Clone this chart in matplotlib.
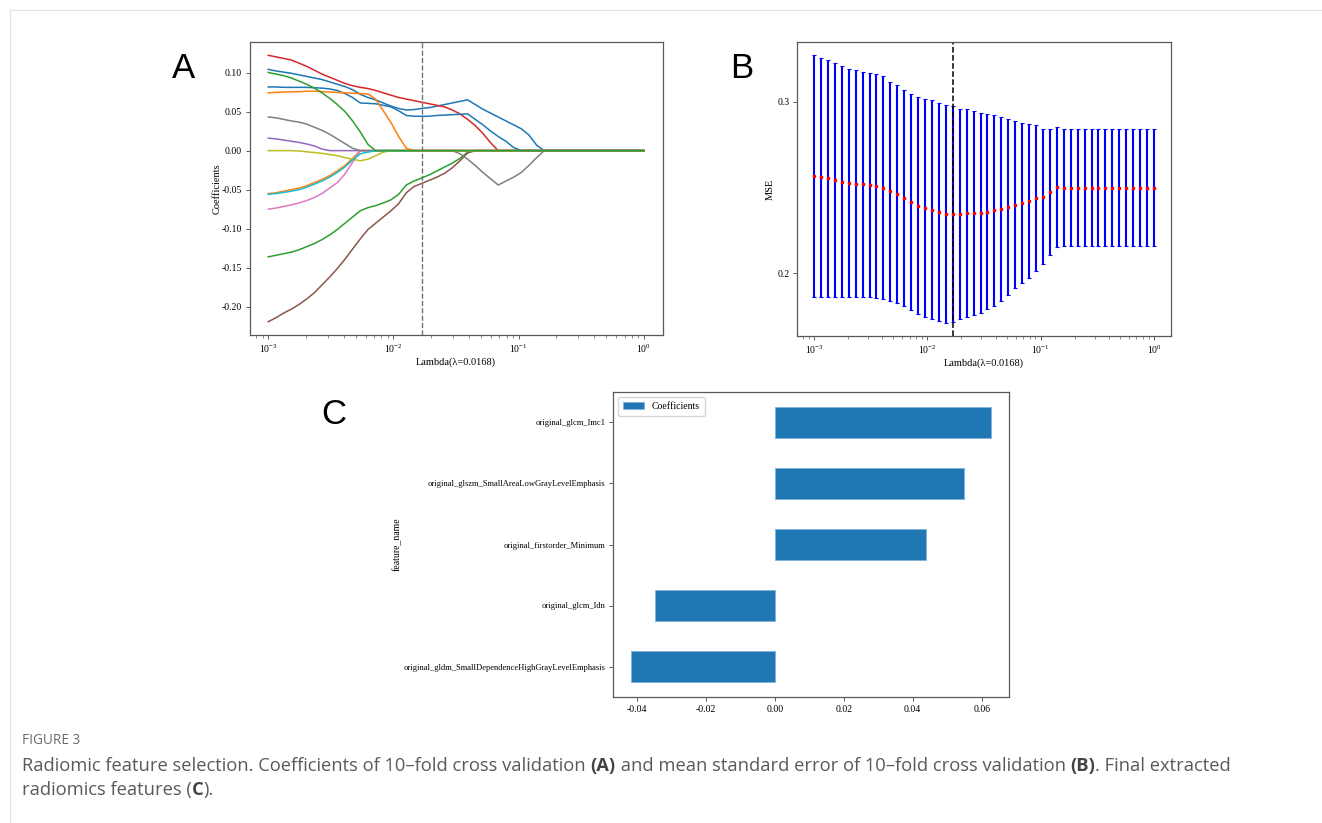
import numpy as np
import matplotlib
matplotlib.use("Agg")
import matplotlib.pyplot as plt
from matplotlib.lines import Line2D

plt.rcParams["font.family"] = ["Liberation Serif", "DejaVu Serif"]
plt.rcParams["mathtext.fontset"] = "stix"
plt.rcParams["axes.unicode_minus"] = False

LAMBDA_BEST = 0.0168
N_ALPHA = 50
alphas = np.logspace(-3, 0, N_ALPHA)


def pad(vals, lead=0):
    # coefficients that have left the model stay at exactly zero
    return [0.0] * lead + vals + [0.0] * (N_ALPHA - lead - len(vals))


# lasso path, one list per feature (drawn in this order, tab10 cycle)
coef_blue_a = pad([0.104, 0.102, 0.1005, 0.099, 0.097, 0.095, 0.093, 0.091, 0.088, 0.085,
                   0.082, 0.078, 0.072, 0.068, 0.065, 0.061, 0.057, 0.054, 0.052, 0.0525,
                   0.054, 0.055, 0.057, 0.059, 0.061, 0.063, 0.065, 0.059, 0.053, 0.048,
                   0.043, 0.038, 0.033, 0.028, 0.020, 0.007, 0.0])
coef_orange_low = pad([-0.055, -0.054, -0.052, -0.050, -0.048, -0.045, -0.041, -0.037, -0.032,
                       -0.026, -0.019, -0.010, 0.0])
coef_green_low = pad([-0.136, -0.134, -0.132, -0.130, -0.127, -0.123, -0.119, -0.114, -0.108,
                      -0.101, -0.093, -0.085, -0.077, -0.073, -0.0705, -0.067, -0.063, -0.056,
                      -0.044, -0.039, -0.035, -0.031, -0.026, -0.021, -0.016, -0.010, -0.002, 0.0])
coef_red = pad([0.122, 0.120, 0.118, 0.116, 0.112, 0.108, 0.103, 0.098, 0.094, 0.090,
                0.086, 0.083, 0.081, 0.0795, 0.077, 0.074, 0.071, 0.068, 0.066, 0.064,
                0.062, 0.060, 0.058, 0.056, 0.052, 0.047, 0.040, 0.032, 0.022, 0.010, 0.0])
coef_purple = pad([0.016, 0.015, 0.0135, 0.012, 0.0105, 0.0085, 0.006, 0.002, 0.0])
coef_brown = pad([-0.219, -0.214, -0.208, -0.203, -0.197, -0.190, -0.182, -0.172, -0.162,
                  -0.151, -0.139, -0.126, -0.113, -0.101, -0.093, -0.085, -0.077, -0.068,
                  -0.054, -0.046, -0.042, -0.038, -0.034, -0.029, -0.022, -0.013, -0.003, 0.0])
coef_pink = pad([-0.075, -0.0735, -0.0715, -0.0695, -0.067, -0.064, -0.060, -0.055, -0.048,
                 -0.041, -0.030, -0.015, 0.0])
coef_gray = pad([0.043, 0.042, 0.040, 0.038, 0.0365, 0.034, 0.030, 0.026, 0.021, 0.015,
                 0.009, 0.003, 0.0, 0.0, 0.0, 0.0, 0.0, 0.0, 0.0, 0.0,
                 0.0, 0.0, 0.0, 0.0, 0.0, -0.004, -0.011, -0.019, -0.028, -0.036,
                 -0.044, -0.039, -0.034, -0.028, -0.019, -0.009, 0.0])
coef_olive = pad([0.0, 0.0, 0.0, 0.0, -0.0005, -0.0015, -0.0025, -0.0035, -0.005, -0.0065,
                  -0.009, -0.011, -0.013, -0.011, -0.0065, -0.002, 0.0])
coef_cyan = pad([-0.056, -0.055, -0.0535, -0.052, -0.050, -0.047, -0.043, -0.039, -0.034,
                 -0.028, -0.021, -0.012, -0.004, -0.002, 0.0])
coef_blue_b = pad([0.0815, 0.0815, 0.081, 0.081, 0.081, 0.081, 0.0805, 0.080, 0.079, 0.077,
                   0.073, 0.068, 0.061, 0.0605, 0.060, 0.058, 0.056, 0.051, 0.045, 0.044,
                   0.044, 0.044, 0.045, 0.0455, 0.046, 0.0465, 0.047, 0.040, 0.033, 0.025,
                   0.018, 0.012, 0.004, 0.0])
coef_orange_top = pad([0.074, 0.0745, 0.075, 0.0752, 0.0755, 0.076, 0.076, 0.0755, 0.075,
                       0.0745, 0.074, 0.0735, 0.073, 0.0725, 0.066, 0.051, 0.036, 0.018,
                       0.003, 0.0])
coef_green_top = pad([0.100, 0.098, 0.096, 0.093, 0.089, 0.085, 0.080, 0.074, 0.067, 0.059,
                      0.050, 0.038, 0.024, 0.008, 0.0])

coefs = np.array([coef_blue_a, coef_orange_low, coef_green_low, coef_red, coef_purple,
                  coef_brown, coef_pink, coef_gray, coef_olive, coef_cyan, coef_blue_b,
                  coef_orange_top, coef_green_top])

# 10-fold CV mean squared error and its spread
mse_mean = [0.2568, 0.2561, 0.2554, 0.2546, 0.2536, 0.2529, 0.2523, 0.2519, 0.2516, 0.2512,
            0.2499, 0.2479, 0.2463, 0.2441, 0.2417, 0.2395, 0.2382, 0.2371, 0.2358, 0.2349,
            0.2347, 0.2348, 0.2351, 0.2351, 0.2353, 0.2361, 0.2368, 0.2377, 0.2387, 0.2401,
            0.2413, 0.2424, 0.2440, 0.2448, 0.2476, 0.2503] + [0.2501] * 14
mse_err = [0.0704, 0.0697, 0.0690, 0.0682, 0.0672, 0.0665, 0.0661, 0.0657, 0.0653, 0.0653,
           0.0650, 0.0638, 0.0634, 0.0631, 0.0631, 0.0632, 0.0634, 0.0639, 0.0636, 0.0636,
           0.0632, 0.0614, 0.0607, 0.0596, 0.0583, 0.0571, 0.0558, 0.0536, 0.0514, 0.0488,
           0.0467, 0.0448, 0.0424, 0.0395, 0.0369, 0.0351] + [0.0340] * 14

# final selected features (bottom to top)
features = ["original_gldm_SmallDependenceHighGrayLevelEmphasis", "original_glcm_Idn",
            "original_firstorder_Minimum", "original_glszm_SmallAreaLowGrayLevelEmphasis",
            "original_glcm_Imc1"]
feature_coef = [-0.0417, -0.0348, 0.0438, 0.0548, 0.0627]

caption_title = "FIGURE 3"
caption_lines = [
    [("Radiomic feature selection. Coefficients of 10\u2013fold cross validation ", False),
     ("(A)", True),
     (" and mean standard error of 10\u2013fold cross validation ", False),
     ("(B)", True),
     (". Final extracted", False)],
    [("radiomics features (", False), ("C", True), (").", False)],
]

W, H = 1322, 823
fig = plt.figure(figsize=(W / 100, H / 100), dpi=100)
FS = 7.0


def box(l, t, r, b):
    return [l / W, 1 - b / H, (r - l) / W, (b - t) / H]


def style(ax):
    for s in ax.spines.values():
        s.set_color("0.35")
        s.set_linewidth(0.9)
    ax.tick_params(labelsize=FS, length=3, width=0.7, color="0.35", pad=2.5)
    ax.tick_params(which="minor", length=1.8, width=0.5, color="0.35")


lam_label = "Lambda(\u03bb=%.4f)" % LAMBDA_BEST

# A: coefficient paths
ax1 = fig.add_axes(box(249.5, 42, 662.7, 335))
ax1.plot(alphas, coefs.T, lw=1.1)
ax1.axvline(LAMBDA_BEST, color="0.45", ls="--", lw=1.0)
ax1.set_xscale("log")
ax1.set_xlabel(lam_label, fontsize=7.5, labelpad=2)
ax1.set_ylabel("Coefficients", fontsize=7.5, labelpad=0)
yt = [-0.20, -0.15, -0.10, -0.05, 0.0, 0.05, 0.10]
ax1.set_yticks(yt)
ax1.set_yticklabels(["%.2f" % v for v in yt])
style(ax1)

# B: cross-validated MSE
ax2 = fig.add_axes(box(797, 42, 1171, 336))
ax2.errorbar(alphas, mse_mean, yerr=mse_err, fmt="s", color="red", ms=1.7,
             ecolor="blue", elinewidth=1.5, capsize=1.5, capthick=0.8)
ax2.axvline(LAMBDA_BEST, color="black", ls="--", lw=1.1)
ax2.set_xscale("log")
ax2.set_yticks([0.2, 0.3])
ax2.set_yticklabels(["0.2", "0.3"])
ax2.set_xlabel(lam_label, fontsize=7.5, labelpad=2)
ax2.set_ylabel("MSE", fontsize=7.5, labelpad=1.5)
style(ax2)

# C: final features
ax3 = fig.add_axes(box(613, 392, 1009, 697))
ax3.barh(np.arange(len(features)), feature_coef, height=0.5, color="#1f77b4",
         edgecolor="#7fb2dc", linewidth=0.6, label="Coefficients")
ax3.set_yticks(np.arange(len(features)))
ax3.set_yticklabels(features)
ax3.set_ylim(-0.5, len(features) - 0.5)
xt = [-0.04, -0.02, 0.0, 0.02, 0.04, 0.06]
ax3.set_xticks(xt)
ax3.set_xticklabels(["%.2f" % v for v in xt])
ax3.set_ylabel("feature_name", fontsize=7, labelpad=1)
style(ax3)
ax3.tick_params(axis="y", labelsize=6.15)
ax3.legend(loc="upper left", fontsize=7, handlelength=2.2, borderpad=0.5)

# panel letters
for letter, x, y in [("A", 183, 68), ("B", 742, 68), ("C", 334, 415)]:
    fig.text(x / W, 1 - y / H, letter, fontsize=25, family=["Liberation Sans"],
             ha="center", va="center", color="black")

# frame lines of the page
fig.add_artist(Line2D([10 / W, 1], [1 - 10 / H, 1 - 10 / H], color="0.88", lw=0.8))
fig.add_artist(Line2D([10 / W, 10 / W], [0, 1 - 10 / H], color="0.88", lw=0.8))

# caption
cap_font = ["Open Sans", "DejaVu Sans"]
fig.text(22 / W, 1 - 741 / H, caption_title, fontsize=9.8, family=cap_font,
         color="#6b6b6b", va="center")
renderer = fig.canvas.get_renderer()
for row, parts in enumerate(caption_lines):
    x = 22.0
    y = 766 + 24 * row
    for txt, bold in parts:
        t = fig.text(x / W, 1 - y / H, txt, fontsize=13.2, family=cap_font,
                     weight="bold" if bold else "normal",
                     color="#444444" if bold else "#5a5a5a", va="center")
        x += t.get_window_extent(renderer=renderer).width

fig.savefig("out.png", dpi=100)
